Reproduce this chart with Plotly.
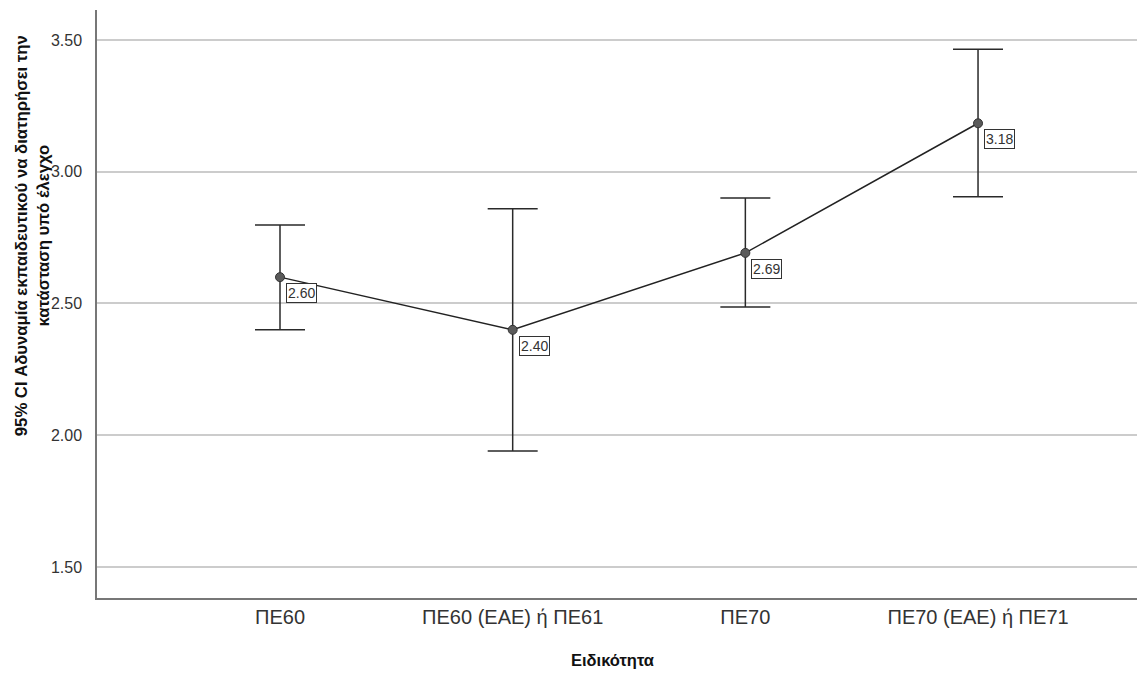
import plotly.graph_objects as go

categories = ["ΠΕ60", "ΠΕ60 (ΕΑΕ) ή ΠΕ61", "ΠΕ70", "ΠΕ70 (ΕΑΕ) ή ΠΕ71"]
means = [2.600, 2.400, 2.692, 3.184]
ci_low = [2.400, 1.940, 2.487, 2.905]
ci_high = [2.798, 2.860, 2.900, 3.465]
y_ticks = [1.50, 2.00, 2.50, 3.00, 3.50]

y_title = "95% CI Αδυναμία εκπαιδευτικού να διατηρήσει την<br>κατάσταση υπό έλεγχο"
x_title = "Ειδικότητα"

FONT = "Arial, Liberation Sans, sans-serif"

err_plus = [h - m for h, m in zip(ci_high, means)]
err_minus = [m - l for m, l in zip(means, ci_low)]

fig = go.Figure()
fig.add_trace(go.Scatter(
    x=categories, y=means,
    mode="lines+markers",
    line=dict(color="#222222", width=1.5),
    marker=dict(size=9, color="#5a5a5a", line=dict(color="#333333", width=1)),
    error_y=dict(type="data", array=err_plus, arrayminus=err_minus,
                 width=25, thickness=1.5, color="#2a2a2a", symmetric=False),
    hoverinfo="skip", showlegend=False,
))

for c, m in zip(categories, means):
    fig.add_annotation(
        x=c, y=m, xref="x", yref="y",
        text=f"{m:.2f}", showarrow=False,
        xanchor="left", yanchor="top", xshift=6, yshift=-6,
        bgcolor="white", bordercolor="#333333", borderwidth=1, borderpad=1,
        font=dict(family=FONT, size=14, color="#333333"),
    )

fig.add_annotation(
    text=y_title, xref="paper", yref="paper", x=-0.062, y=0.6156,
    xanchor="center", yanchor="middle", textangle=-90, showarrow=False,
    font=dict(family=FONT, size=16.7, color="#111111", weight="bold"),
)
fig.add_annotation(
    text=x_title, xref="paper", yref="paper", x=0.493, y=-0.105,
    xanchor="center", yanchor="middle", showarrow=False,
    font=dict(family=FONT, size=16.5, color="#111111", weight="bold"),
)

fig.update_layout(
    width=1137, height=667,
    margin=dict(l=89, r=2, t=2, b=77),
    plot_bgcolor="white", paper_bgcolor="white",
    font=dict(family=FONT, color="#333333"),
    xaxis=dict(
        type="category", categoryorder="array", categoryarray=categories,
        range=[-0.7865, 3.709],
        showgrid=False, zeroline=False,
        showline=True, linecolor="#777777", linewidth=1.5,
        ticks="", tickfont=dict(family=FONT, size=20, color="#333333"),
        ticklabelstandoff=0,
    ),
    yaxis=dict(
        range=[1.382, 3.614],
        tickvals=y_ticks, tickformat=".2f",
        showgrid=True, gridcolor="#cccccc", gridwidth=1.5,
        zeroline=False,
        showline=True, linecolor="#777777", linewidth=1.5,
        ticks="", tickfont=dict(family=FONT, size=16, color="#333333"),
        ticklabelstandoff=10,
    ),
)

fig.write_html("out.html")
